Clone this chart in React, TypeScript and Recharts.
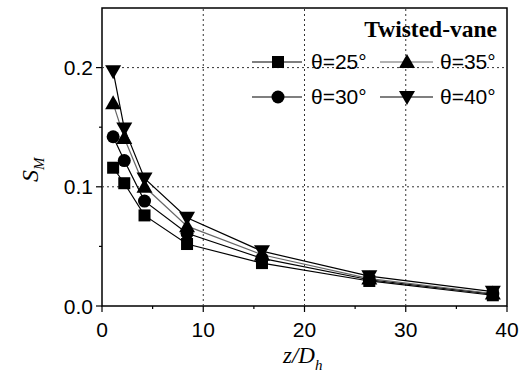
import React from 'react';
import { LineChart, Line, XAxis, YAxis, ReferenceLine, ReferenceArea, Legend } from 'recharts';

const zValues = [1.1, 2.2, 4.2, 8.4, 15.8, 26.4, 38.6];
const theta25 = [0.116, 0.103, 0.076, 0.052, 0.036, 0.021, 0.009];
const theta30 = [0.142, 0.122, 0.088, 0.061, 0.040, 0.022, 0.010];
const theta35 = [0.170, 0.141, 0.100, 0.067, 0.043, 0.023, 0.0105];
const theta40 = [0.197, 0.149, 0.107, 0.074, 0.046, 0.025, 0.012];

const xTicks = [0, 5, 10, 15, 20, 25, 30, 35, 40];
const yTicks = [0, 0.05, 0.1, 0.15, 0.2];
const gridX = [10, 20, 30];
const gridY = [0.1, 0.2];

const seriesInfo = [
  { key: 't25', label: 'θ=25°', marker: 'square', color: '#000' },
  { key: 't30', label: 'θ=30°', marker: 'circle', color: '#000' },
  { key: 't35', label: 'θ=35°', marker: 'up', color: '#666' },
  { key: 't40', label: 'θ=40°', marker: 'down', color: '#000' },
];

const data = zValues.map((z, i) => ({
  z,
  t25: theta25[i],
  t30: theta30[i],
  t35: theta35[i],
  t40: theta40[i],
}));

const SANS = '"Liberation Sans", Arial, sans-serif';
const SERIF = '"Liberation Serif", "Times New Roman", serif';

function Marker({ kind, cx, cy }: { kind: string; cx: number; cy: number }) {
  if (kind === 'square') return <rect x={cx - 6} y={cy - 6} width={12} height={12} fill="#000" />;
  if (kind === 'circle') return <circle cx={cx} cy={cy} r={6.5} fill="#000" />;
  if (kind === 'up')
    return <polygon points={`${cx},${cy - 8} ${cx - 8},${cy + 6} ${cx + 8},${cy + 6}`} fill="#000" />;
  return <polygon points={`${cx},${cy + 8} ${cx - 8},${cy - 6} ${cx + 8},${cy - 6}`} fill="#000" />;
}

const XTick = (props: any) => {
  const { x, y, payload } = props;
  const v = payload.value;
  const major = v % 10 === 0;
  return (
    <g>
      <line x1={x} x2={x} y1={y} y2={y + (major ? 6 : 3)} stroke="#000" strokeWidth={1.2} />
      {major && (
        <text x={x} y={y + 31} textAnchor="middle" fontSize={21} fontFamily={SANS} fill="#000">
          {v}
        </text>
      )}
    </g>
  );
};

const YTick = (props: any) => {
  const { x, y, payload } = props;
  const v = payload.value;
  const major = Math.abs(v * 10 - Math.round(v * 10)) < 1e-6;
  return (
    <g>
      <line x1={x} x2={x - (major ? 6 : 3)} y1={y} y2={y} stroke="#000" strokeWidth={1.2} />
      {major && (
        <text x={x - 9} y={y + 7.5} textAnchor="end" fontSize={21} fontFamily={SANS} fill="#000">
          {v.toFixed(1)}
        </text>
      )}
    </g>
  );
};

const LegendContent = () => {
  const rows = [
    { y: 62, items: [seriesInfo[0], seriesInfo[2]] },
    { y: 97, items: [seriesInfo[1], seriesInfo[3]] },
  ];
  const cols = [
    { x1: 252, x2: 302, mx: 278, tx: 311 },
    { x1: 380, x2: 433, mx: 407, tx: 440 },
  ];
  return (
    <svg width={522} height={120} style={{ display: 'block' }}>
      <text x={497} y={37} textAnchor="end" fontSize={23.5} fontWeight="bold" fontFamily={SERIF} fill="#000">
        Twisted-vane
      </text>
      {rows.map((r, ri) =>
        r.items.map((s, ci) => {
          const c = cols[ci];
          return (
            <g key={`${ri}-${ci}`}>
              <line x1={c.x1} x2={c.x2} y1={r.y} y2={r.y} stroke={s.color} strokeWidth={1.2} />
              <Marker kind={s.marker} cx={c.mx} cy={r.y} />
              <text x={c.tx} y={r.y + 7} fontSize={21} fontFamily={SANS} fill="#000">
                {s.label}
              </text>
            </g>
          );
        })
      )}
    </svg>
  );
};

export default function App() {
  return (
    <div style={{ position: 'absolute', left: 0, top: 0, background: '#fff' }}>
      <LineChart width={522} height={373} data={data} margin={{ top: 8, right: 15, bottom: 27, left: 0 }}>
        <XAxis
          type="number"
          dataKey="z"
          domain={[0, 40]}
          ticks={xTicks}
          interval={0}
          tickSize={0}
          tickMargin={0}
          axisLine={false}
          tickLine={false}
          tick={<XTick />}
          height={40}
          label={{
            content: () => (
              <text x={283} y={363} fontSize={23} fontStyle="italic" fontFamily={SERIF} fill="#000">
                z/D
                <tspan fontSize={15} dy={7}>h</tspan>
              </text>
            ),
          }}
        />
        <YAxis
          type="number"
          domain={[0, 0.25]}
          ticks={yTicks}
          interval={0}
          tickSize={0}
          tickMargin={0}
          axisLine={false}
          tickLine={false}
          tick={<YTick />}
          width={102}
          label={{
            content: () => (
              <text
                x={0}
                y={0}
                transform="translate(38,182) rotate(-90)"
                fontSize={24}
                fontStyle="italic"
                fontFamily={SERIF}
                fill="#000"
              >
                S
                <tspan fontSize={15} dy={6}>M</tspan>
              </text>
            ),
          }}
        />
        {gridX.map((g) => (
          <ReferenceLine key={`gx${g}`} x={g} stroke="#333" strokeDasharray="2 3" strokeWidth={1} />
        ))}
        {gridY.map((g) => (
          <ReferenceLine key={`gy${g}`} y={g} stroke="#333" strokeDasharray="2 3" strokeWidth={1} />
        ))}
        <ReferenceArea x1={0} x2={40} y1={0} y2={0.25} fill="none" stroke="#000" strokeWidth={1.5} fillOpacity={0} />
        {seriesInfo.map((s) => (
          <Line
            key={s.key}
            dataKey={s.key}
            type="linear"
            stroke={s.color}
            strokeWidth={1.2}
            isAnimationActive={false}
            dot={(p: any) => <Marker key={`${s.key}-${p.index}`} kind={s.marker} cx={p.cx} cy={p.cy} />}
            activeDot={false}
          />
        ))}
        <Legend
          layout="vertical"
          align="center"
          verticalAlign="middle"
          content={<LegendContent />}
          wrapperStyle={{ position: 'absolute', left: 0, top: 0, width: 522, height: 120 }}
        />
      </LineChart>
    </div>
  );
}
